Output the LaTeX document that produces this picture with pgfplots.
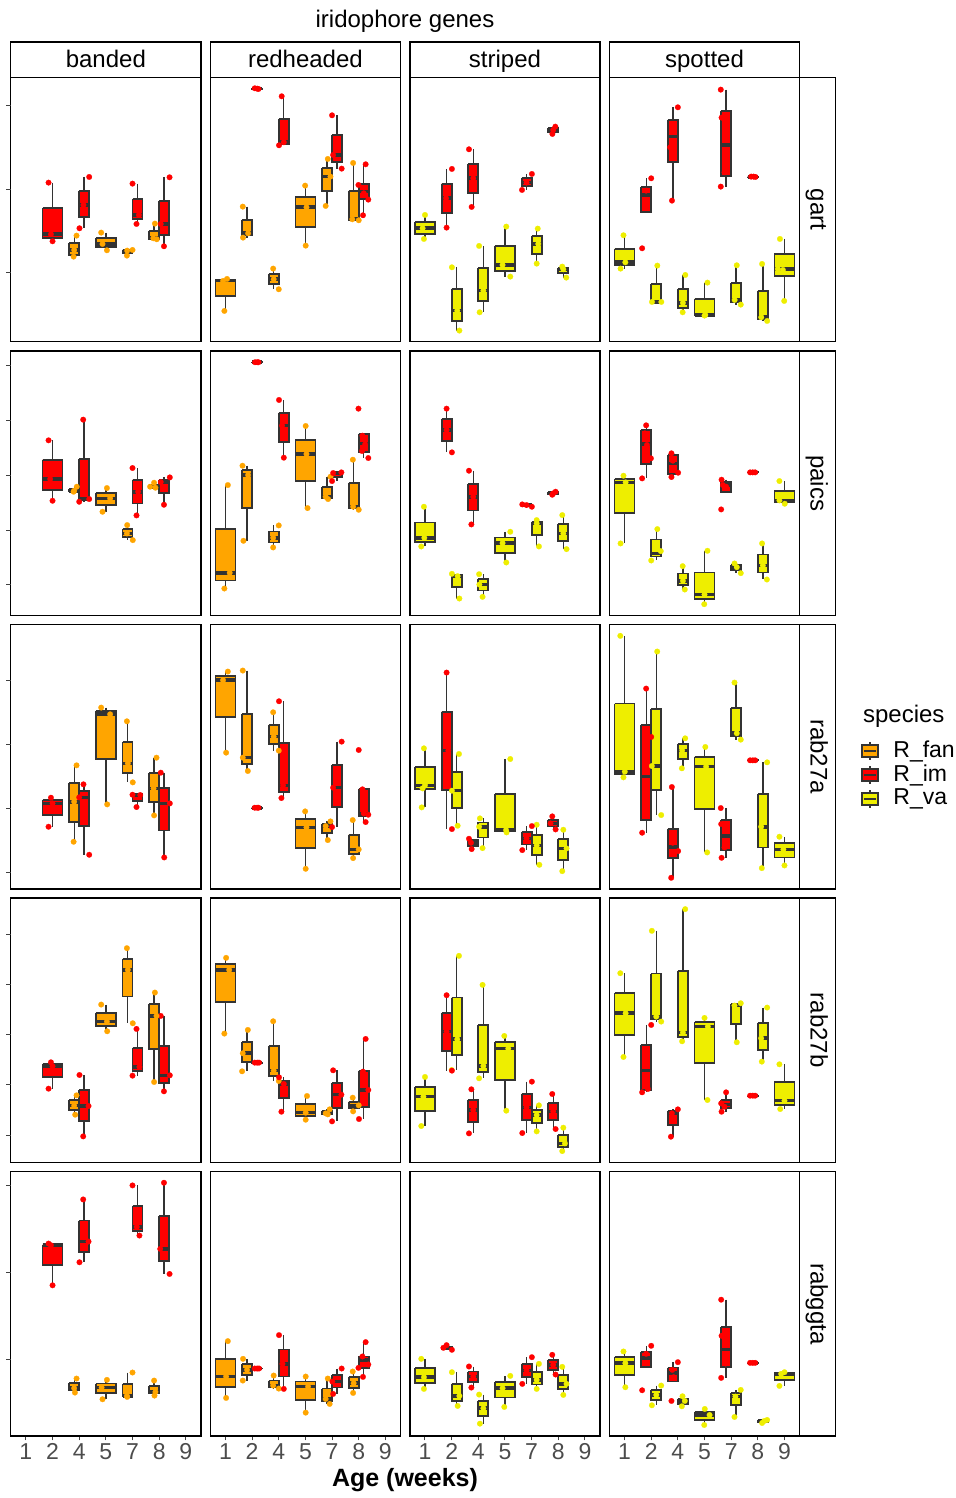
\documentclass[border=0pt]{standalone}
\usepackage{fontspec}
\setmainfont{Liberation Sans}
\usepackage{pgfplots}
\pgfplotsset{compat=1.18}
\definecolor{cfan}{HTML}{FFA500}
\definecolor{cim}{HTML}{FF0000}
\definecolor{cva}{HTML}{EEEE00}
\definecolor{bl}{HTML}{333333}
% box: colour, position, width, lower whisker, lower quartile, median, upper quartile, upper whisker
\newcommand{\bx}[8]{%
 \pgfmathsetmacro\xl{#2-#3/2}%
 \pgfmathsetmacro\xr{#2+#3/2}%
 \edef\bxtmp{%
  \noexpand\addplot[bl, line width=0.7pt] coordinates {(#2,#4)(#2,#5)};
  \noexpand\addplot[bl, line width=0.7pt] coordinates {(#2,#7)(#2,#8)};
  \noexpand\addplot[fill=#1, draw=bl, line width=0.9pt] coordinates {(\xl,#5)(\xr,#5)(\xr,#7)(\xl,#7)(\xl,#5)};
  \noexpand\addplot[bl, line width=1.8pt] coordinates {(\xl,#6)(\xr,#6)};
 }\bxtmp}
\pgfplotsset{
 panel/.style={scale only axis, width=95.15pt, height=132.15pt, anchor=north west,
   xmin=0.43, xmax=7.57, y dir=reverse, axis line style={line width=0.7pt},
   tick pos=left, xtick=\empty, ytick=\empty,
   tick style={line width=0.5pt, black!75}, tick align=outside, major tick length=2.2pt},
 bot/.style={xtick={1,2,3,4,5,6,7}, xticklabels={1,2,4,5,7,8,9},
   xticklabel style={font=\fontsize{11.5}{12}\selectfont, text=black!70, inner sep=1.5pt}},
 jit/.style={only marks, mark=*, mark size=1.4pt, color=#1, mark options={fill=#1, draw=#1, line width=0.1pt}},
}
\begin{document}
\begin{tikzpicture}
\useasboundingbox (0,0) rectangle (478pt,-749pt);
% ================= ROW 1: gart =================
\begin{axis}[panel, at={(5.35pt,-38.65pt)}, ymin=22, ymax=815]
\bx{cim}{2}{0.75}{338}{415}{493}{504}{514}
\bx{cfan}{2.8125}{0.375}{497}{520}{540}{555}{560}
\bx{cim}{3.1875}{0.375}{321}{363}{405}{440}{475}
\bx{cfan}{4}{0.75}{488}{505}{522}{531}{541}
\bx{cfan}{4.8125}{0.375}{538}{540}{542}{549}{557}
\bx{cim}{5.1875}{0.375}{341}{388}{435}{448}{462}
\bx{cfan}{5.8125}{0.375}{461}{483}{505}{507}{508}
\bx{cim}{6.1875}{0.375}{322}{392}{462}{495}{529}
\addplot[jit=cim] coordinates {(1.85,338)(1.94,493)(2.0,514)(3.375,321)(3.16,405)(3.01,475)(5.0,341)(5.24,435)(5.15,462)(6.39,322)(6.06,462)(6.18,529)};
\addplot[jit=cfan] coordinates {(2.9,497)(2.81,540)(2.79,560)(3.825,488)(3.875,522)(4.04,541)(4.79,557)(5.0,540)(4.8,542)(5.84,461)(5.78,505)(5.91,508)};
\end{axis}
\begin{axis}[panel, at={(105.125pt,-38.65pt)}, ymin=22, ymax=815]
\bx{cfan}{1}{0.75}{627}{630}{632}{678}{723}
\bx{cfan}{1.8125}{0.375}{410}{450}{490}{496}{503}
\bx{cim}{2.1875}{0.375}{55}{55.5}{56}{56.5}{57}
\bx{cfan}{2.8125}{0.375}{596}{612}{628}{643}{658}
\bx{cim}{3.1875}{0.375}{79}{148}{217}{221}{226}
\bx{cfan}{4}{0.75}{347}{380}{412}{470}{527}
\bx{cfan}{4.8125}{0.375}{267}{293}{320}{364}{408}
\bx{cim}{5.1875}{0.375}{136}{196}{255}{276}{296}
\bx{cfan}{5.8125}{0.375}{279}{364}{448}{450}{451}
\bx{cim}{6.1875}{0.375}{283}{343}{365}{388}{436}
\addplot[jit=cfan] coordinates {(1.06,627)(0.91,633)(0.96,723)(1.65,410)(1.85,490)(1.66,503)(2.79,596)(3.0,658)(2.81,628)(3.99,347)(4.04,412)(4.01,527)(4.84,267)(4.76,408)(4.94,320)(5.79,279)(5.76,448)(6.0,451)};
\addplot[jit=cim] coordinates {(2.1,55)(2.19,56)(2.24,57)(3.11,79)(3.19,217)(3.01,226)(5.0,136)(5.04,255)(5.36,296)(6.26,283)(5.99,345)(6.19,370)(6.36,389)(6.16,436)};
\end{axis}
\begin{axis}[panel, at={(204.9pt,-38.65pt)}, ymin=22, ymax=815]
\bx{cva}{1}{0.75}{435}{455}{475}{491}{507}
\bx{cim}{1.8125}{0.375}{297}{341}{385}{429}{473}
\bx{cva}{2.1875}{0.375}{592}{657}{722}{752}{782}
\bx{cim}{2.8125}{0.375}{238}{281}{325}{368}{411}
\bx{cva}{3.1875}{0.375}{528}{595}{662}{694}{727}
\bx{cva}{4}{0.75}{470}{527}{585}{602}{620}
\bx{cim}{4.8125}{0.375}{312}{325}{338}{349}{360}
\bx{cva}{5.1875}{0.375}{476}{499}{522}{551}{581}
\bx{cim}{5.8125}{0.375}{170}{175}{180}{186}{192}
\bx{cva}{6.1875}{0.375}{590}{594}{598}{610}{623}
\addplot[jit=cim] coordinates {(2.01,297)(1.79,385)(1.81,473)(2.65,238)(2.81,325)(2.75,411)(5.01,312)(4.81,338)(4.64,360)(5.89,170)(5.81,180)(5.78,192)};
\addplot[jit=cva] coordinates {(1.0,435)(0.91,475)(0.96,507)(2.01,592)(2.21,722)(2.29,782)(3.03,528)(3.19,662)(3.05,727)(4.05,470)(3.91,585)(4.2,620)(5.23,476)(5.25,522)(5.19,581)(6.15,590)(6.19,598)(6.3,623)};
\end{axis}
\begin{axis}[panel, at={(304.675pt,-38.65pt)}, ymin=22, ymax=815]
\bx{cva}{1}{0.75}{496}{536}{577}{586}{596}
\bx{cim}{1.8125}{0.375}{325}{352}{376}{426}{426}
\bx{cva}{2.1875}{0.375}{587}{641}{696}{696}{696}
\bx{cim}{2.8125}{0.375}{112}{150}{200}{275}{392}
\bx{cva}{3.1875}{0.375}{615}{657}{699}{713}{727}
\bx{cva}{4}{0.75}{638}{686}{735}{736}{737}
\bx{cim}{4.8125}{0.375}{59}{122}{225}{318}{350}
\bx{cva}{5.1875}{0.375}{586}{638}{690}{697}{704}
\bx{cim}{5.8125}{0.375}{320}{320}{320.5}{320.5}{321}
\bx{cva}{6.1875}{0.375}{582}{662}{742}{747}{753}
\bx{cva}{7}{0.75}{507}{551}{597}{617}{693}
\addplot[jit=cva] coordinates {(0.96,496)(1.03,577)(0.85,596)(2.23,587)(2.03,696)(2.38,696)(3.28,615)(3.19,699)(3.18,727)(4.11,638)(4.03,735)(4.0,737)(5.21,586)(5.13,690)(5.36,704)(6.16,582)(6.13,742)(6.35,753)(6.83,507)(6.75,597)(6.94,600)(6.99,693)};
\addplot[jit=cim] coordinates {(2.0,325)(1.81,362)(1.79,390)(1.66,535)(3.0,112)(2.81,185)(2.71,232)(2.78,392)(4.61,59)(4.64,143)(4.75,307)(4.61,350)(5.75,320)(5.84,320)(5.91,321)};
\end{axis}
% ================= ROW 2: paics =================
\begin{axis}[panel, at={(5.35pt,-175.45pt)}, ymin=18, ymax=810]
\bx{cim}{2}{0.75}{286}{344}{402}{434}{467}
\bx{cfan}{2.8125}{0.375}{425}{431}{437}{438.5}{440}
\bx{cim}{3.1875}{0.375}{224}{343}{462}{466}{470}
\bx{cfan}{4}{0.75}{429}{444}{460}{480}{500}
\bx{cfan}{4.8125}{0.375}{540}{552}{565}{575}{585}
\bx{cim}{5.1875}{0.375}{369}{404}{440}{475}{511}
\bx{cfan}{5.8125}{0.375}{413}{419}{425}{426.5}{428}
\bx{cim}{6.1875}{0.375}{397}{404}{411}{445}{479}
\addplot[jit=cim] coordinates {(1.85,286)(1.91,402)(2.0,467)(3.15,224)(3.375,462)(3.0,470)(5.0,369)(5.21,440)(5.15,511)(6.4,397)(6.06,411)(6.18,479)};
\addplot[jit=cfan] coordinates {(2.81,437)(2.91,425)(2.79,440)(4.04,429)(4.16,460)(3.875,500)(4.8,540)(4.79,565)(5.01,585)(5.81,413)(5.86,428)(5.66,425)};
\end{axis}
\begin{axis}[panel, at={(105.125pt,-175.45pt)}, ymin=18, ymax=810]
\bx{cfan}{1}{0.75}{420}{551}{683}{706}{730}
\bx{cfan}{1.8125}{0.375}{362}{376}{390}{488}{587}
\bx{cim}{2.1875}{0.375}{51}{51.5}{52}{52.5}{53}
\bx{cfan}{2.8125}{0.375}{541}{559}{578}{592}{607}
\bx{cim}{3.1875}{0.375}{165}{203}{242}{290}{338}
\bx{cfan}{4}{0.75}{243}{285}{327}{408}{489}
\bx{cfan}{4.8125}{0.375}{395}{425}{455}{458}{462}
\bx{cim}{5.1875}{0.375}{382}{383}{384}{396}{408}
\bx{cfan}{5.8125}{0.375}{344}{414}{485}{489}{494}
\bx{cim}{6.1875}{0.375}{268}{268}{295}{322}{338}
\addplot[jit=cfan] coordinates {(1.09,420)(1.16,683)(0.96,730)(1.64,362)(1.85,390)(1.675,587)(3.0,541)(2.79,578)(2.79,607)(4.01,243)(4.04,327)(4.08,489)(4.94,395)(4.76,455)(4.85,462)(5.78,344)(5.79,485)(6.0,494)};
\addplot[jit=cim] coordinates {(2.11,52)(2.19,52)(2.24,52)(3.01,165)(3.125,242)(3.19,338)(5.04,384)(5.35,382)(5.0,408)(5.99,191)(6.14,272)(6.24,298)(6.125,318)(6.36,339)};
\end{axis}
\begin{axis}[panel, at={(204.9pt,-175.45pt)}, ymin=18, ymax=810]
\bx{cva}{1}{0.75}{485}{532}{578}{591}{604}
\bx{cim}{1.8125}{0.375}{191}{223}{255}{288}{322}
\bx{cva}{2.1875}{0.375}{686}{689}{693}{726}{760}
\bx{cim}{2.8125}{0.375}{377}{416}{455}{496}{538}
\bx{cva}{3.1875}{0.375}{687}{702}{718}{736}{755}
\bx{cva}{4}{0.75}{560}{577}{594}{623}{652}
\bx{cim}{4.8125}{0.375}{478}{479}{480}{482}{485}
\bx{cva}{5.1875}{0.375}{525}{530}{535}{570}{604}
\bx{cim}{5.8125}{0.375}{440}{442}{445}{447}{449}
\bx{cva}{6.1875}{0.375}{510}{537}{565}{588}{612}
\addplot[jit=cva] coordinates {(0.96,485)(0.975,578)(0.86,604)(2.01,686)(2.225,693)(2.29,760)(3.03,687)(3.04,718)(3.16,755)(4.2,560)(3.91,594)(4.05,652)(5.19,525)(5.19,535)(5.275,604)(6.15,510)(6.19,565)(6.31,612)};
\addplot[jit=cim] coordinates {(1.81,191)(1.81,255)(2.01,322)(2.65,377)(2.81,455)(2.74,538)(4.65,478)(4.81,480)(5.01,485)(5.9,440)(5.775,449)(5.81,445)};
\end{axis}
\begin{axis}[panel, at={(304.675pt,-175.45pt)}, ymin=18, ymax=810]
\bx{cva}{1}{0.75}{392}{402}{412}{503}{595}
\bx{cim}{1.8125}{0.375}{241}{255}{297}{356}{400}
\bx{cva}{2.1875}{0.375}{552}{583}{625}{634}{646}
\bx{cim}{2.8125}{0.375}{325}{330}{355}{388}{396}
\bx{cva}{3.1875}{0.375}{663}{685}{707}{720}{733}
\bx{cva}{4}{0.75}{617}{682}{748}{762}{777}
\bx{cim}{4.8125}{0.375}{404}{410}{420}{440}{440}
\bx{cva}{5.1875}{0.375}{655}{660}{666}{675}{684}
\bx{cim}{5.8125}{0.375}{381.5}{381.8}{382}{382.2}{382.5}
\bx{cva}{6.1875}{0.375}{595}{628}{661}{682}{703}
\bx{cva}{7}{0.75}{408}{437}{466}{471}{476}
\addplot[jit=cva] coordinates {(0.96,392)(1.04,412)(0.85,595)(2.23,552)(2.16,600)(2.36,618)(2.0,646)(3.18,663)(3.19,707)(3.26,733)(4.11,617)(4.0,748)(3.99,777)(5.125,655)(5.21,666)(5.36,684)(6.16,595)(6.19,661)(6.34,703)(6.81,408)(6.81,466)(7.01,476)};
\addplot[jit=cim] coordinates {(1.81,241)(1.76,265)(1.84,300)(1.99,340)(1.66,400)(2.76,325)(2.81,347)(3.01,383)(2.76,396)(4.64,404)(4.69,420)(4.81,425)(4.625,493)(5.71,382)(5.81,382)(5.9,382)};
\end{axis}
% ================= ROW 3: rab27a =================
\begin{axis}[panel, at={(5.35pt,-312.25pt)}, ymin=14, ymax=806]
\bx{cim}{2}{0.75}{533}{541}{550}{585}{620}
\bx{cfan}{2.8125}{0.375}{436}{490}{545}{605}{665}
\bx{cim}{3.1875}{0.375}{493}{512}{532}{618}{704}
\bx{cfan}{4}{0.75}{263}{273}{283}{418}{553}
\bx{cfan}{4.8125}{0.375}{304}{367}{430}{458}{487}
\bx{cim}{5.1875}{0.375}{524}{524.5}{525}{543}{561}
\bx{cfan}{5.8125}{0.375}{413}{459}{505}{545}{586}
\bx{cim}{6.1875}{0.375}{458}{504}{550}{631}{712}
\addplot[jit=cim] coordinates {(1.94,533)(2.0,550)(1.85,620)(3.16,493)(3.0,532)(3.375,704)(5.0,524)(5.29,525)(5.15,561)(6.06,458)(6.4,550)(6.19,712)};
\addplot[jit=cfan] coordinates {(2.9,436)(2.81,545)(2.79,665)(3.825,263)(4.16,283)(4.05,553)(4.79,304)(4.825,430)(5.01,487)(5.9,413)(5.79,505)(5.81,586)};
\end{axis}
\begin{axis}[panel, at={(105.125pt,-312.25pt)}, ymin=14, ymax=806]
\bx{cfan}{1}{0.75}{155}{168}{181}{290}{398}
\bx{cfan}{1.8125}{0.375}{152}{283}{413}{433}{453}
\bx{cim}{2.1875}{0.375}{562}{562.5}{563}{563.5}{564}
\bx{cfan}{2.8125}{0.375}{277}{314}{350}{371}{392}
\bx{cim}{3.1875}{0.375}{244}{370}{496}{515}{534}
\bx{cfan}{4}{0.75}{574}{598}{622}{684}{746}
\bx{cfan}{4.8125}{0.375}{604}{611}{618}{639}{660}
\bx{cim}{5.1875}{0.375}{365}{434}{503}{562}{621}
\bx{cfan}{5.8125}{0.375}{600}{644}{688}{701}{714}
\bx{cim}{6.1875}{0.375}{508}{508}{580}{588}{606}
\addplot[jit=cfan] coordinates {(1.09,155)(0.91,181)(1.025,398)(1.65,152)(1.65,413)(1.84,453)(2.79,277)(2.81,350)(3.0,392)(3.99,574)(4.04,622)(4.01,746)(4.94,604)(4.76,618)(4.84,660)(5.775,600)(6.0,688)(5.79,714)};
\addplot[jit=cim] coordinates {(2.1,563)(2.19,563)(2.24,563)(3.01,244)(3.16,496)(3.1,534)(5.36,365)(5.04,503)(5.0,621)(6.0,390)(6.14,508)(6.19,580)(6.36,584)(6.26,606)};
\end{axis}
\begin{axis}[panel, at={(204.9pt,-312.25pt)}, ymin=14, ymax=806]
\bx{cva}{1}{0.75}{385}{441}{497}{506}{562}
\bx{cim}{1.8125}{0.375}{158}{275}{392}{510}{627}
\bx{cva}{2.1875}{0.375}{402}{457}{512}{565}{617}
\bx{cim}{2.8125}{0.375}{656}{660}{668}{678}{687}
\bx{cva}{3.1875}{0.375}{595}{607}{620}{652}{684}
\bx{cva}{4}{0.75}{417}{523}{630}{634}{637}
\bx{cim}{4.8125}{0.375}{618}{636}{655}{673}{690}
\bx{cva}{5.1875}{0.375}{614}{645}{676}{705}{734}
\bx{cim}{5.8125}{0.375}{589}{600}{610}{619}{628}
\bx{cva}{6.1875}{0.375}{629}{657}{685}{719}{753}
\addplot[jit=cva] coordinates {(0.96,385)(1.0,495)(0.91,505)(0.875,562)(2.275,402)(2.01,512)(2.225,617)(3.06,595)(3.03,620)(3.16,684)(4.2,417)(4.04,630)(4.06,637)(5.19,614)(5.19,676)(5.29,734)(6.19,629)(6.31,685)(6.15,753)};
\addplot[jit=cim] coordinates {(1.81,158)(1.875,392)(2.01,627)(2.65,656)(2.725,668)(2.75,687)(5.01,618)(4.81,655)(4.65,690)(5.775,589)(5.71,610)(5.9,628)};
\end{axis}
\begin{axis}[panel, at={(304.675pt,-312.25pt)}, ymin=14, ymax=806]
\bx{cva}{1}{0.75}{48}{251}{455}{463}{472}
\bx{cim}{1.8125}{0.375}{206}{315}{469}{600}{638}
\bx{cva}{2.1875}{0.375}{95}{266}{438}{511}{585}
\bx{cim}{2.8125}{0.375}{501}{626}{680}{713}{773}
\bx{cva}{3.1875}{0.375}{355}{373}{391}{418}{445}
\bx{cva}{4}{0.75}{381}{410}{440}{568}{697}
\bx{cim}{4.8125}{0.375}{564}{600}{647}{690}{713}
\bx{cva}{5.1875}{0.375}{188}{264}{340}{349}{359}
\bx{cim}{5.8125}{0.375}{420.5}{420.8}{421}{421.2}{421.5}
\bx{cva}{6.1875}{0.375}{427}{523}{620}{682}{744}
\bx{cva}{7}{0.75}{650}{669}{688}{712}{736}
\addplot[jit=cva] coordinates {(0.84,48)(1.01,455)(0.96,472)(2.225,95)(2.025,438)(2.375,585)(3.275,355)(3.16,391)(3.15,445)(4.03,381)(4.06,440)(4.1,697)(5.125,188)(5.21,340)(5.36,359)(6.35,427)(6.125,620)(6.15,744)(6.81,650)(6.96,688)(7.0,736)};
\addplot[jit=cim] coordinates {(1.81,206)(2.0,351)(1.79,587)(1.66,638)(2.775,501)(2.81,668)(3.01,693)(2.75,773)(4.61,564)(4.625,612)(4.75,682)(4.64,713)(5.71,421)(5.81,421)(5.9,421)};
\end{axis}
% ================= ROW 4: rab27b =================
\begin{axis}[panel, at={(5.35pt,-449.05pt)}, ymin=15, ymax=807]
\bx{cim}{2}{0.75}{507}{513}{519}{552}{586}
\bx{cfan}{2.8125}{0.375}{606}{621}{637}{650}{664}
\bx{cim}{3.1875}{0.375}{545}{591}{638}{683}{729}
\bx{cfan}{4}{0.75}{334}{359}{385}{399}{414}
\bx{cfan}{4.8125}{0.375}{165}{197}{230}{310}{390}
\bx{cim}{5.1875}{0.375}{407}{464}{521}{534}{547}
\bx{cfan}{5.8125}{0.375}{298}{333}{368}{467}{566}
\bx{cim}{6.1875}{0.375}{368}{457}{546}{570}{594}
\addplot[jit=cim] coordinates {(1.94,507)(2.0,519)(1.85,586)(3.01,545)(3.35,638)(3.15,729)(5.15,407)(5.26,521)(5.0,547)(6.06,368)(6.4,546)(6.18,594)};
\addplot[jit=cfan] coordinates {(2.9,606)(2.81,637)(2.85,664)(3.825,334)(4.04,385)(4.05,414)(4.79,165)(4.825,230)(5.01,390)(5.84,298)(5.9,368)(5.81,566)};
\end{axis}
\begin{axis}[panel, at={(105.125pt,-449.05pt)}, ymin=15, ymax=807]
\bx{cfan}{1}{0.75}{194}{212}{230}{326}{421}
\bx{cfan}{1.8125}{0.375}{410}{445}{480}{507}{534}
\bx{cim}{2.1875}{0.375}{507.5}{507.8}{508}{508.2}{508.5}
\bx{cfan}{2.8125}{0.375}{384}{458}{532}{548}{563}
\bx{cim}{3.1875}{0.375}{552}{562}{572}{614}{655}
\bx{cfan}{4}{0.75}{608}{633}{658}{669}{679}
\bx{cfan}{4.8125}{0.375}{648}{654}{660}{662}{663}
\bx{cim}{5.1875}{0.375}{531}{568}{604}{644}{684}
\bx{cfan}{5.8125}{0.375}{613}{625}{636}{645}{654}
\bx{cim}{6.1875}{0.375}{437}{534}{590}{641}{677}
\addplot[jit=cfan] coordinates {(1.025,194)(1.14,230)(0.96,421)(1.84,410)(1.65,480)(1.625,534)(2.79,384)(2.81,532)(3.0,563)(4.06,608)(4.01,658)(4.01,679)(4.91,648)(4.76,660)(4.84,663)(5.775,613)(6.0,636)(5.79,654)};
\addplot[jit=cim] coordinates {(2.1,508)(2.19,508)(2.26,508)(3.01,552)(3.19,572)(3.1,655)(5.04,531)(5.35,604)(5.0,684)(6.26,437)(6.16,535)(6.36,590)(6.01,677)};
\end{axis}
\begin{axis}[panel, at={(204.9pt,-449.05pt)}, ymin=15, ymax=807]
\bx{cva}{1}{0.75}{551}{580}{610}{654}{698}
\bx{cim}{1.8125}{0.375}{306}{360}{415}{473}{532}
\bx{cva}{2.1875}{0.375}{188}{313}{438}{484}{530}
\bx{cim}{2.8125}{0.375}{588}{619}{650}{685}{720}
\bx{cva}{3.1875}{0.375}{275}{396}{518}{536}{555}
\bx{cva}{4}{0.75}{428}{447}{466}{559}{652}
\bx{cim}{4.8125}{0.375}{565}{603}{642}{680}{719}
\bx{cva}{5.1875}{0.375}{636}{650}{665}{689}{714}
\bx{cim}{5.8125}{0.375}{602}{628}{654}{680}{707}
\bx{cva}{6.1875}{0.375}{703}{726}{750}{761}{773}
\addplot[jit=cva] coordinates {(1.0,551)(0.94,610)(0.86,698)(2.275,188)(2.21,438)(2.0,530)(3.16,275)(3.19,518)(3.03,555)(3.975,428)(4.125,466)(4.05,652)(5.275,636)(5.19,665)(5.19,714)(6.19,703)(6.25,750)(6.15,773)};
\addplot[jit=cim] coordinates {(1.81,306)(1.81,415)(2.01,532)(2.74,588)(2.81,650)(2.65,720)(5.01,565)(4.81,642)(4.65,719)(5.775,602)(5.81,654)(5.9,707)};
\end{axis}
\begin{axis}[panel, at={(304.675pt,-449.05pt)}, ymin=15, ymax=807]
\bx{cva}{1}{0.75}{240}{300}{360}{425}{491}
\bx{cim}{1.8125}{0.375}{395}{456}{532}{590}{597}
\bx{cva}{2.1875}{0.375}{113}{241}{370}{377}{385}
\bx{cim}{2.8125}{0.375}{648}{654}{660}{695}{730}
\bx{cva}{3.1875}{0.375}{48}{233}{418}{431}{444}
\bx{cva}{4}{0.75}{374}{387}{400}{510}{620}
\bx{cim}{4.8125}{0.375}{597}{621}{633}{645}{655}
\bx{cva}{5.1875}{0.375}{330}{333}{337}{392}{447}
\bx{cim}{5.8125}{0.375}{606.5}{606.8}{607}{607.2}{607.5}
\bx{cva}{6.1875}{0.375}{343}{389}{435}{470}{505}
\bx{cva}{7}{0.75}{513}{567}{622}{634}{647}
\addplot[jit=cva] coordinates {(0.84,240)(1.04,360)(0.96,491)(2.025,113)(2.19,370)(2.375,385)(3.275,48)(3.19,418)(3.16,444)(4.0,374)(4.125,400)(4.11,620)(5.36,330)(5.125,337)(5.21,447)(6.35,343)(6.125,435)(6.15,505)(6.81,513)(7.0,622)(6.84,647)};
\addplot[jit=cim] coordinates {(2.0,395)(1.81,476)(1.875,587)(1.66,597)(3.0,648)(2.775,660)(2.74,730)(4.81,597)(4.625,630)(4.75,640)(4.64,655)(5.71,607)(5.81,607)(5.9,607)};
\end{axis}
% ================= ROW 5: rabggta =================
\begin{axis}[panel, bot, at={(5.35pt,-585.85pt)}, ymin=17, ymax=808]
\bx{cim}{2}{0.75}{232}{235}{237}{297}{357}
\bx{cfan}{2.8125}{0.375}{636}{650}{665}{671}{678}
\bx{cim}{3.1875}{0.375}{100}{163}{226}{257}{288}
\bx{cfan}{4}{0.75}{640}{651}{663}{680}{698}
\bx{cfan}{4.8125}{0.375}{618}{653}{688}{689}{691}
\bx{cim}{5.1875}{0.375}{58}{120}{182}{195}{208}
\bx{cfan}{5.8125}{0.375}{642}{659}{676}{681}{687}
\bx{cim}{6.1875}{0.375}{50}{149}{248}{285}{323}
\addplot[jit=cim] coordinates {(1.85,232)(1.94,237)(2.0,357)(3.15,100)(3.35,226)(3.01,288)(5.0,58)(5.16,182)(5.26,208)(6.18,50)(6.04,248)(6.39,323)};
\addplot[jit=cfan] coordinates {(2.9,636)(2.81,665)(2.84,678)(4.04,640)(3.84,663)(3.875,698)(5.0,618)(4.79,688)(4.8,691)(5.81,642)(5.86,676)(5.825,687)};
\end{axis}
\begin{axis}[panel, bot, at={(105.125pt,-585.85pt)}, ymin=17, ymax=808]
\bx{cfan}{1}{0.75}{524}{577}{630}{662}{694}
\bx{cfan}{1.8125}{0.375}{577}{593}{610}{626}{642}
\bx{cim}{2.1875}{0.375}{605.5}{605.8}{606}{606.2}{606.5}
\bx{cfan}{2.8125}{0.375}{627}{642}{657}{661}{666}
\bx{cim}{3.1875}{0.375}{506}{549}{592}{630}{667}
\bx{cfan}{4}{0.75}{630}{645}{660}{699}{738}
\bx{cfan}{4.8125}{0.375}{636}{666}{697}{704}{712}
\bx{cim}{5.1875}{0.375}{606}{625}{645}{663}{682}
\bx{cfan}{5.8125}{0.375}{615}{632}{650}{664}{679}
\bx{cim}{6.1875}{0.375}{527}{570}{580}{605}{631}
\addplot[jit=cfan] coordinates {(1.09,524)(1.025,630)(1.025,694)(1.66,577)(1.81,610)(1.65,642)(2.81,627)(2.79,657)(3.0,666)(4.01,630)(4.1,660)(4.01,738)(4.84,636)(4.76,697)(4.91,712)(5.775,615)(5.81,650)(5.79,679)};
\addplot[jit=cim] coordinates {(2.1,606)(2.19,606)(2.26,606)(3.01,506)(3.14,592)(3.19,667)(5.36,606)(5.01,645)(5.04,682)(6.26,527)(6.14,570)(6.36,594)(5.99,604)(6.16,631)};
\end{axis}
\begin{axis}[panel, bot, at={(204.9pt,-585.85pt)}, ymin=17, ymax=808]
\bx{cva}{1}{0.75}{577}{605}{632}{650}{667}
\bx{cim}{1.8125}{0.375}{536}{540}{544}{547}{550}
\bx{cva}{2.1875}{0.375}{617}{652}{688}{703}{718}
\bx{cim}{2.8125}{0.375}{600}{615}{630}{647}{663}
\bx{cva}{3.1875}{0.375}{684}{704}{725}{748}{771}
\bx{cva}{4}{0.75}{628}{647}{665}{693}{721}
\bx{cim}{4.8125}{0.375}{572}{592}{612}{632}{652}
\bx{cva}{5.1875}{0.375}{592}{616}{640}{654}{667}
\bx{cim}{5.8125}{0.375}{565}{580}{595}{610}{624}
\bx{cva}{6.1875}{0.375}{601}{626}{652}{668}{685}
\addplot[jit=cva] coordinates {(0.86,577)(0.96,632)(0.96,667)(2.01,617)(2.29,688)(2.225,718)(3.03,684)(3.19,725)(3.06,771)(4.2,628)(3.91,665)(3.975,721)(5.275,592)(5.19,640)(5.19,667)(6.15,601)(6.31,652)(6.19,685)};
\addplot[jit=cim] coordinates {(1.81,536)(1.69,544)(2.01,550)(2.65,600)(2.81,630)(2.74,663)(5.01,572)(4.81,612)(4.65,652)(5.775,565)(5.81,595)(5.9,624)};
\end{axis}
\begin{axis}[panel, bot, at={(304.675pt,-585.85pt)}, ymin=17, ymax=808]
\bx{cva}{1}{0.75}{555}{572}{590}{626}{662}
\bx{cim}{1.8125}{0.375}{538}{556}{575}{602}{602}
\bx{cva}{2.1875}{0.375}{657}{671}{685}{700}{716}
\bx{cim}{2.8125}{0.375}{587}{603}{620}{645}{645}
\bx{cva}{3.1875}{0.375}{689}{696}{703}{711}{719}
\bx{cva}{4}{0.75}{727}{736}{745}{760}{775}
\bx{cim}{4.8125}{0.375}{400}{481}{549}{602}{634}
\bx{cva}{5.1875}{0.375}{670}{680}{690}{716}{751}
\bx{cim}{5.8125}{0.375}{588.5}{588.8}{589}{589.2}{589.5}
\bx{cva}{6.1875}{0.375}{760}{761.5}{763}{766}{769}
\bx{cva}{7}{0.75}{617}{619.5}{622}{640}{658}
\addplot[jit=cva] coordinates {(0.96,555)(1.03,590)(1.03,662)(2.375,657)(2.19,685)(2.025,716)(3.175,689)(3.26,703)(3.15,719)(4.01,727)(4.19,745)(3.99,775)(5.36,670)(5.16,690)(5.125,751)(6.16,769)(6.35,760)(6.24,763)(7.0,617)(6.875,622)(6.81,658)};
\addplot[jit=cim] coordinates {(2.0,538)(1.81,562)(1.79,590)(1.66,671)(3.0,587)(2.79,610)(2.84,632)(2.76,703)(4.625,400)(4.64,508)(4.79,591)(4.625,634)(5.71,589)(5.81,589)(5.9,589)};
\end{axis}
% ================= decorations =================
\begin{scope}[x=0.5pt, y=-0.5pt, font=\fontsize{12}{14}\selectfont]
\foreach \y in {106,189.3,272.3,365.7,420.7,475.3,530,584.3,680.3,744.7,808.7,872.7,934,984.3,1034.7,1084.7,1135,1185.3,1272.7,1359.3}
  \draw[black!75, line width=0.5pt] (10.7,\y) -- (6.3,\y);
\node at (405,21) {iridophore genes};
\foreach \L/\T in {10.7/banded, 210.25/redheaded, 409.8/striped, 609.35/spotted}{
  \draw[line width=0.7pt, fill=white] (\L,42) rectangle ({\L+190.3},77.3);
  \node[anchor=base] at ({\L+95.15},67.5) {\T};}
\foreach \Y/\T in {77.3/gart, 350.9/paics, 624.5/rab27a, 898.1/rab27b, 1171.7/rabggta}{
  \draw[line width=0.7pt, fill=white] (799.65,\Y) rectangle (835.5,{\Y+264.3});
  \node[rotate=-90, anchor=base] at (810.5,{\Y+132.15}) {\T};}
\node[font=\fontsize{12.5}{14}\selectfont\bfseries] at (405,1480) {Age (weeks)};
\node[anchor=west] at (856,716) {species};
\foreach \Y/\C/\T in {751/cfan/R\_fan, 775/cim/R\_im, 799/cva/R\_va}{
  \draw[bl, line width=0.6pt] (870,\Y-9) -- (870,\Y+9);
  \draw[bl, line width=0.7pt, fill=\C] (862,\Y-6) rectangle (878,\Y+6);
  \draw[bl, line width=1.3pt] (864,\Y) -- (876,\Y);
  \node[anchor=west, inner sep=0pt, font=\fontsize{11.5}{13}\selectfont] at (893,\Y) {\T};}
\end{scope}
\end{tikzpicture}
\end{document}
